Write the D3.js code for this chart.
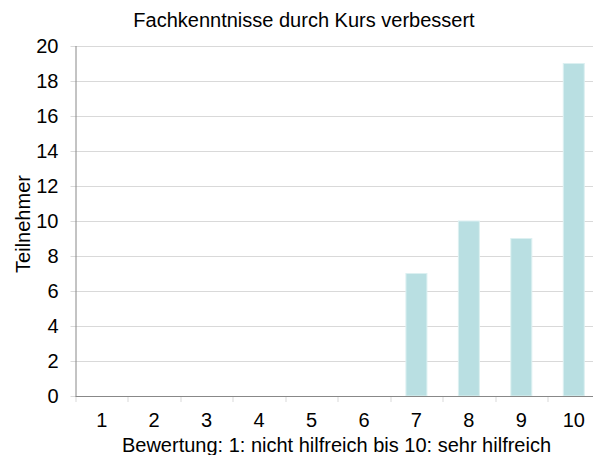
<!DOCTYPE html>
<html>
<head>
<meta charset="utf-8">
<script src="https://cdn.jsdelivr.net/npm/d3@7"></script>
<style>
  body { margin: 0; background: #fff; overflow: hidden; }
  text { font-family: "Liberation Sans", Arial, sans-serif; fill: #000; }
</style>
</head>
<body>
<div id="chart"></div>
<script>
const categories = ["1", "2", "3", "4", "5", "6", "7", "8", "9", "10"];
const values = [0, 0, 0, 0, 0, 0, 7, 10, 9, 19];
const yTicks = [0, 2, 4, 6, 8, 10, 12, 14, 16, 18, 20];

const margin = { top: 46, right: -7, bottom: 59, left: 75.5 },
      width = 593 - margin.left - margin.right,
      height = 455 - margin.top - margin.bottom;

const svg = d3.select("#chart")
  .append("svg")
  .attr("width", 593)
  .attr("height", 455);

const g = svg.append("g")
  .attr("transform", `translate(${margin.left},${margin.top})`);

const x = d3.scaleBand().domain(categories).range([0, width]);
const y = d3.scaleLinear().domain([0, 20]).range([height, 0]);

// gridlines
g.append("g")
  .selectAll("line")
  .data(yTicks)
  .enter().append("line")
  .attr("x1", -5)
  .attr("x2", width)
  .attr("y1", d => y(d) + 0.5)
  .attr("y2", d => y(d) + 0.5)
  .attr("stroke", "#d9d9d9")
  .attr("stroke-width", 1);

// y tick labels
g.append("g")
  .selectAll("text")
  .data(yTicks)
  .enter().append("text")
  .attr("x", -17)
  .attr("y", d => y(d))
  .attr("dy", "0.35em")
  .attr("text-anchor", "end")
  .style("font-size", "20px")
  .text(d => d);

// bars
const barW = x.bandwidth() * 0.4;
g.selectAll(".bar")
  .data(values)
  .enter().append("rect")
  .attr("class", "bar")
  .attr("x", (d, i) => x(categories[i]) + (x.bandwidth() - barW) / 2)
  .attr("y", d => y(d))
  .attr("width", barW)
  .attr("height", d => height - y(d))
  .attr("fill", "#b9dfe2")
  .attr("stroke", "#dcf0f1")
  .attr("stroke-width", 1)
  .style("display", d => d > 0 ? null : "none");

// x ticks at band edges
const edges = categories.map(c => x(c)).concat([width]);
g.append("g")
  .selectAll("line")
  .data(edges)
  .enter().append("line")
  .attr("x1", d => Math.round(d) + 0.5)
  .attr("x2", d => Math.round(d) + 0.5)
  .attr("y1", height)
  .attr("y2", height + 6)
  .attr("stroke", "#d9d9d9");

// axis lines
g.append("line")
  .attr("x1", 0.5).attr("x2", 0.5)
  .attr("y1", 0).attr("y2", height + 0.5)
  .attr("stroke", "#888");
g.append("line")
  .attr("x1", 0).attr("x2", width)
  .attr("y1", height + 0.5).attr("y2", height + 0.5)
  .attr("stroke", "#888");

// x tick labels
g.append("g")
  .selectAll("text")
  .data(categories)
  .enter().append("text")
  .attr("x", d => x(d) + x.bandwidth() / 2)
  .attr("y", height + 31)
  .attr("text-anchor", "middle")
  .style("font-size", "20px")
  .text(d => d);

// title and axis labels
svg.append("text")
  .attr("x", 304)
  .attr("y", 27)
  .attr("text-anchor", "middle")
  .style("font-size", "20px")
  .text("Fachkenntnisse durch Kurs verbessert");

svg.append("text")
  .attr("x", 336.5)
  .attr("y", 451.5)
  .attr("text-anchor", "middle")
  .style("font-size", "20px")
  .text("Bewertung: 1: nicht hilfreich bis 10: sehr hilfreich");

svg.append("text")
  .attr("transform", "translate(29.5,224) rotate(-90)")
  .attr("text-anchor", "middle")
  .style("font-size", "20px")
  .text("Teilnehmer");
</script>
</body>
</html>
